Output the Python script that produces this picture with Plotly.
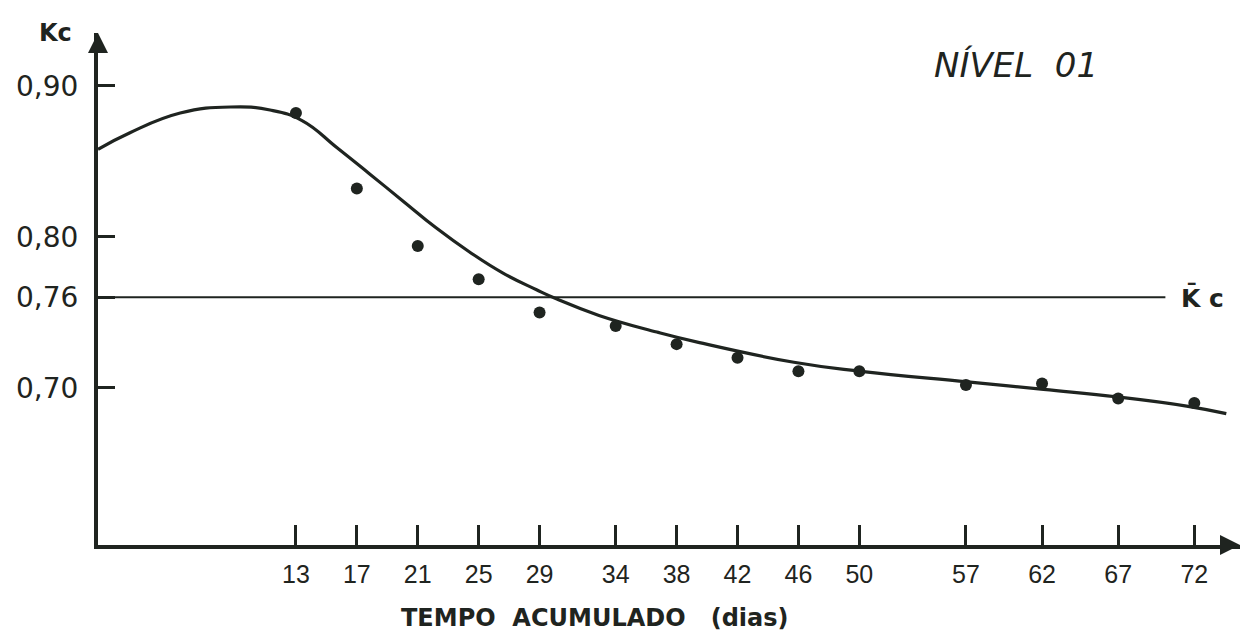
import plotly.graph_objects as go

# Observed data (dias, Kc)
dias = [13, 17, 21, 25, 29, 34, 38, 42, 46, 50, 57, 62, 67, 72]
kc_obs = [0.882, 0.832, 0.794, 0.772, 0.750, 0.741, 0.729, 0.720, 0.711, 0.711, 0.702, 0.703, 0.693, 0.690]

# Hand-drawn fitted curve
curva_x = [0.0, 2.1, 5.4, 8.7, 11.3, 13.4, 15.7, 17.8, 20.0, 22.2, 24.4, 26.6, 28.8, 30.1,
           32.9, 36.7, 39.5, 45.7, 50.1, 57.1, 62.1, 67.0, 71.5, 74.1]
curva_y = [0.858, 0.869, 0.882, 0.886, 0.884, 0.877, 0.859, 0.842, 0.824, 0.806, 0.790, 0.776,
           0.765, 0.759, 0.748, 0.737, 0.730, 0.717, 0.711, 0.704, 0.699, 0.694, 0.688, 0.683]

# Mean Kc line
kc_medio = 0.76
kc_medio_x = [0.0, 70.1]

x_ticks = [13, 17, 21, 25, 29, 34, 38, 42, 46, 50, 57, 62, 67, 72]
y_ticks = [0.70, 0.76, 0.80, 0.90]
y_ticktext = ["0,70", "0,76", "0,80", "0,90"]

INK = "#1f2420"
FONT = "DejaVu Sans"

fig = go.Figure()

fig.add_trace(go.Scatter(x=kc_medio_x, y=[kc_medio, kc_medio], mode="lines",
                         line=dict(color=INK, width=2), hoverinfo="skip", cliponaxis=False))
fig.add_trace(go.Scatter(x=curva_x, y=curva_y, mode="lines",
                         line=dict(color=INK, width=3.2, shape="spline", smoothing=1.3),
                         cliponaxis=False))
fig.add_trace(go.Scatter(x=dias, y=kc_obs, mode="markers",
                         marker=dict(color=INK, size=12), cliponaxis=False))

fig.update_layout(
    width=1245, height=633,
    margin=dict(l=98, r=5, t=33, b=88),
    paper_bgcolor="white", plot_bgcolor="white",
    showlegend=False,
    font=dict(family=FONT, color=INK),
    xaxis=dict(range=[0, 75], tickvals=x_ticks, ticktext=[str(v) for v in x_ticks],
               ticks="inside", ticklen=20, tickwidth=2.5, tickcolor=INK,
               showline=True, linewidth=4, linecolor=INK, showgrid=False, zeroline=False,
               tickfont=dict(size=25, family="Liberation Sans", color=INK),
               ticklabelstandoff=4),
    yaxis=dict(range=[0.596, 0.935], tickvals=y_ticks, ticktext=y_ticktext,
               ticks="inside", ticklen=17, tickwidth=2.5, tickcolor=INK,
               showline=True, linewidth=4, linecolor=INK, showgrid=False, zeroline=False,
               tickfont=dict(size=28, family=FONT, color=INK),
               ticklabelstandoff=10),
)

# axis arrows
fig.add_annotation(x=75, y=0.596, xref="x", yref="y", ax=-18, ay=0, showarrow=True,
                   arrowhead=2, arrowsize=1, arrowwidth=4, arrowcolor=INK, text="")
fig.add_annotation(x=0, y=0.935, xref="x", yref="y", ax=0, ay=18, showarrow=True,
                   arrowhead=2, arrowsize=1, arrowwidth=4, arrowcolor=INK, text="")

# texts
fig.add_annotation(x=-0.037, y=1.0, xref="paper", yref="paper", text="<b>Kc</b>", showarrow=False,
                   font=dict(size=24, family=FONT, color=INK), xanchor="center", yanchor="middle")
fig.add_annotation(x=71.0, y=kc_medio, xref="x", yref="y", text="<b>K\u0304 c</b>", showarrow=False,
                   xanchor="left", font=dict(size=25, family=FONT, color=INK))
fig.add_annotation(x=60.3, y=0.914, xref="x", yref="y", text="<i>NÍVEL  01</i>", showarrow=False,
                   font=dict(size=34, family=FONT, color=INK), yanchor="middle")
fig.add_annotation(x=32.6, y=-0.142, xref="x", yref="paper",
                   text="<b>TEMPO  ACUMULADO   (dias)</b>", showarrow=False,
                   font=dict(size=24, family=FONT, color=INK), yanchor="middle")

fig.write_html("out.html")
